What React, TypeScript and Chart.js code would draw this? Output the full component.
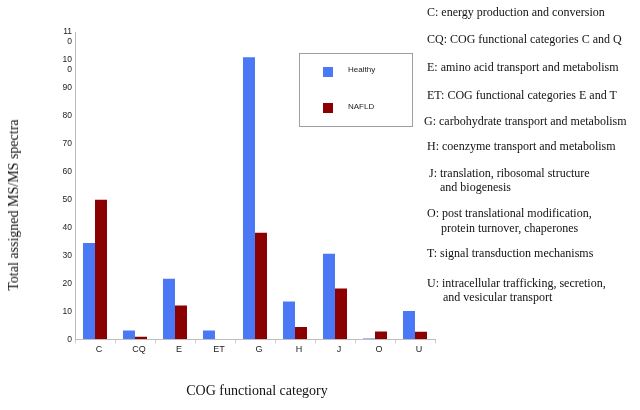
import React, { useEffect, useRef } from "react";
import { Chart, registerables } from "chart.js";

Chart.register(...registerables);

const categories = ["C", "CQ", "E", "ET", "G", "H", "J", "O", "U"];
const healthy = [34.5, 3.2, 21.7, 3.2, 101, 13.6, 30.7, 0.4, 10.2];
const nafld = [50, 1, 12.2, 0, 38.2, 4.5, 18.2, 2.9, 2.8];
const seriesNames = ["Healthy", "NAFLD"];
const seriesColors = ["#4b78f5", "#8b0000"];
const yMax = 110;
const yStep = 10;

const notes: { text: string; x: number; y: number }[] = [
  { text: "C: energy production and conversion", x: 427, y: 12 },
  { text: "CQ: COG functional categories C and Q", x: 427, y: 39 },
  { text: "E: amino acid transport and metabolism", x: 427, y: 67 },
  { text: "ET: COG functional categories E and T", x: 427, y: 95 },
  { text: "G: carbohydrate transport and metabolism", x: 424, y: 121 },
  { text: "H: coenzyme transport and metabolism", x: 427, y: 146 },
  { text: "J: translation, ribosomal structure", x: 429, y: 173 },
  { text: "and biogenesis", x: 440, y: 187 },
  { text: "O: post translational modification,", x: 427, y: 213 },
  { text: "protein turnover, chaperones", x: 441, y: 228 },
  { text: "T: signal transduction mechanisms", x: 427, y: 253 },
  { text: "U: intracellular trafficking, secretion,", x: 427, y: 283 },
  { text: "and vesicular transport", x: 443, y: 297 },
];

const serif = "'Liberation Serif', 'Times New Roman', serif";
const sans = "'Liberation Sans', Arial, sans-serif";

export default function App() {
  const ref = useRef<HTMLCanvasElement | null>(null);

  useEffect(() => {
    if (!ref.current) return;
    const chart = new Chart(ref.current, {
      type: "bar",
      data: {
        labels: categories,
        datasets: [
          { label: seriesNames[0], data: healthy, backgroundColor: seriesColors[0] },
          { label: seriesNames[1], data: nafld, backgroundColor: seriesColors[1] },
        ],
      },
      options: {
        animation: false,
        responsive: false,
        maintainAspectRatio: false,
        layout: { padding: { left: 0, right: 205, top: 32, bottom: 50.5 } },
        plugins: { legend: { display: false }, tooltip: { enabled: false } },
        datasets: { bar: { categoryPercentage: 0.6, barPercentage: 1 } },
        scales: {
          x: {
            offset: true,
            grid: {
              display: true,
              drawOnChartArea: false,
              drawTicks: true,
              tickLength: 4,
              color: "#cfcfcf",
              offset: true,
            },
            border: { display: true, color: "#bdbdbd" },
            ticks: {
              color: "#222",
              font: { family: sans, size: 9 },
              padding: 1,
              labelOffset: 4,
              maxRotation: 0,
              autoSkip: false,
            },
            afterFit: (s: any) => {
              s.height = 20;
            },
          },
          y: {
            min: 0,
            max: yMax,
            grid: { display: true, drawOnChartArea: false, drawTicks: false },
            border: { display: true, color: "#bdbdbd" },
            ticks: {
              stepSize: yStep,
              autoSkip: false,
              padding: 3,
              color: "#222",
              font: { family: sans, size: 8.5, lineHeight: 1.1 },
              callback: (v: any) => {
                const s = String(v);
                if (s.length > 2) return ["", s.slice(0, 2), s.slice(2)];
                return s;
              },
            },
            afterFit: (s: any) => {
              s.width = 75;
            },
          },
        },
      },
    });
    return () => chart.destroy();
  }, []);

  return (
    <div style={{ position: "absolute", left: 0, top: 0, width: 640, height: 410, background: "#fff", overflow: "hidden" }}>
      <canvas ref={ref} width={640} height={410} style={{ position: "absolute", left: 0, top: 0, width: 640, height: 410 }} />
      <div
        style={{
          position: "absolute",
          left: 14,
          top: 205,
          transform: "translate(-50%, -50%) rotate(-90deg)",
          whiteSpace: "nowrap",
          fontFamily: serif,
          fontSize: 14,
          color: "#111",
        }}
      >
        Total assigned MS/MS spectra
      </div>
      <div
        style={{
          position: "absolute",
          left: 257,
          top: 391,
          transform: "translate(-50%, -50%)",
          whiteSpace: "nowrap",
          fontFamily: serif,
          fontSize: 14,
          color: "#111",
        }}
      >
        COG functional category
      </div>
      <div
        style={{
          position: "absolute",
          left: 299,
          top: 53,
          width: 112,
          height: 72,
          border: "1px solid #9aa0a6",
        }}
      />
      {seriesNames.map((n, i) => (
        <React.Fragment key={n}>
          <div
            style={{
              position: "absolute",
              left: 323,
              top: i === 0 ? 67 : 103,
              width: 10,
              height: 10,
              background: seriesColors[i],
            }}
          />
          <div
            style={{
              position: "absolute",
              left: 348,
              top: i === 0 ? 69 : 106,
              transform: "translateY(-50%)",
              fontFamily: sans,
              fontSize: 8,
              color: "#222",
              whiteSpace: "nowrap",
            }}
          >
            {n}
          </div>
        </React.Fragment>
      ))}
      {notes.map((n, i) => (
        <div
          key={i}
          style={{
            position: "absolute",
            left: n.x,
            top: n.y,
            transform: "translateY(-50%)",
            fontFamily: serif,
            fontSize: 12,
            lineHeight: "15px",
            color: "#111",
            whiteSpace: "nowrap",
          }}
        >
          {n.text}
        </div>
      ))}
    </div>
  );
}
